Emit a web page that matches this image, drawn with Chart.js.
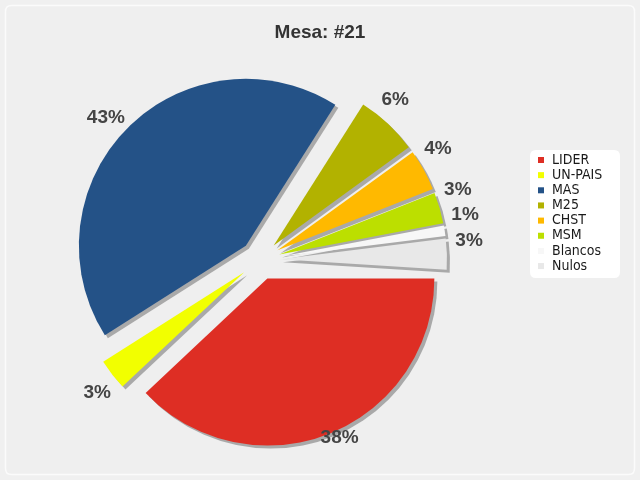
<!DOCTYPE html>
<html>
<head>
<meta charset="utf-8">
<script src="https://cdn.jsdelivr.net/npm/chart.js@4.4.1/dist/chart.umd.min.js"></script>
<style>
    html, body { margin: 0; padding: 0; background: #f0f0f0; }
    #wrap { width: 640px; height: 480px; }
</style>
</head>
<body>
<div id="wrap"><canvas id="mesaChart" width="640" height="480"></canvas></div>
<script>
// ==================================================
// DATA
// ==================================================
const chartTitle = 'Mesa: #21';
const categories = ['LIDER', 'UN-PAIS', 'MAS', 'M25', 'CHST', 'MSM', 'Blancos', 'Nulos'];
const votePercent = [38, 3, 43, 6, 4, 3, 1, 3];
const sliceColors = ['#de2e24', '#f2ff00', '#245287', '#b2b200', '#ffb900', '#bcdf00', '#f7f7f7', '#e8e8e8'];

// the original draws 3.6 degrees per percent point, so the rounded
// values (summing to 101) overlap a little past the full turn
const totalPercent = votePercent.reduce((a, b) => a + b, 0);

// small helper for rounded boxes
function roundBox(ctx, x, y, w, h, r) {
    ctx.beginPath();
    ctx.moveTo(x + r, y);
    ctx.lineTo(x + w - r, y);
    ctx.quadraticCurveTo(x + w, y, x + w, y + r);
    ctx.lineTo(x + w, y + h - r);
    ctx.quadraticCurveTo(x + w, y + h, x + w - r, y + h);
    ctx.lineTo(x + r, y + h);
    ctx.quadraticCurveTo(x, y + h, x, y + h - r);
    ctx.lineTo(x, y + r);
    ctx.quadraticCurveTo(x, y, x + r, y);
    ctx.closePath();
}

// Chart.js grows the radius of exploded arcs; here every slice is just
// slid out by `offset` pixels along its middle angle, same radius for all
Chart.ArcElement.prototype.draw = function (ctx) {
    const { x, y, startAngle, endAngle, outerRadius, options } = this;
    if (endAngle - startAngle <= 0 || outerRadius <= 0) return;
    const mid = (startAngle + endAngle) / 2;
    const push = options.offset || 0;
    ctx.save();
    ctx.translate(Math.cos(mid) * push, Math.sin(mid) * push);
    ctx.beginPath();
    ctx.moveTo(x, y);
    ctx.arc(x, y, outerRadius, startAngle, endAngle);
    ctx.closePath();
    ctx.fillStyle = options.backgroundColor;
    ctx.fill();
    ctx.restore();
};

// ==================================================
// PLUGINS
// ==================================================
const background = {
    id: 'background',
    beforeDraw(chart) {
        const ctx = chart.ctx;
        ctx.save();
        ctx.fillStyle = '#f0f0f0';
        ctx.fillRect(0, 0, chart.width, chart.height);
        roundBox(ctx, 5.5, 5.5, chart.width - 11, chart.height - 11, 6);
        ctx.fillStyle = '#efefef';
        ctx.fill();
        ctx.strokeStyle = '#fbfbfb';
        ctx.lineWidth = 1.5;
        ctx.stroke();

        // title
        ctx.font = 'bold 19px "Liberation Sans", Arial, sans-serif';
        ctx.fillStyle = '#333';
        ctx.textAlign = 'center';
        ctx.textBaseline = 'middle';
        ctx.fillText(chartTitle, chart.width / 2, 33);
        ctx.restore();
    }
};

const sliceShadow = {
    id: 'sliceShadow',
    beforeDatasetsDraw(chart) {
        const ctx = chart.ctx;
        ctx.save();
        ctx.shadowColor = '#a9a9a9';
        ctx.shadowOffsetX = 3;
        ctx.shadowOffsetY = 3;
        ctx.shadowBlur = 0;
    },
    afterDatasetsDraw(chart) {
        chart.ctx.restore();
    }
};

const percentLabels = {
    id: 'percentLabels',
    afterDatasetsDraw(chart) {
        const ctx = chart.ctx;
        const meta = chart.getDatasetMeta(0);
        ctx.save();
        ctx.font = 'bold 19px "Liberation Sans", Arial, sans-serif';
        ctx.fillStyle = '#444';
        ctx.textAlign = 'center';
        ctx.textBaseline = 'middle';
        let cum = 0;
        meta.data.forEach((arc, i) => {
            const p = arc.getProps(['x', 'y', 'outerRadius'], true);
            // labels sit on the share of a full turn
            const mid = ((cum + votePercent[i] / 2) / totalPercent) * Math.PI * 2;
            cum += votePercent[i];
            const dist = p.outerRadius + 43;
            const lx = p.x + Math.cos(mid) * dist;
            const ly = Math.min(p.y + Math.sin(mid) * dist, 438);
            ctx.fillText(votePercent[i] + '%', lx, ly);
        });
        ctx.restore();
    }
};

const sideLegend = {
    id: 'sideLegend',
    afterDraw(chart) {
        const ctx = chart.ctx;
        ctx.save();
        roundBox(ctx, 530, 150, 90, 128, 6);
        ctx.fillStyle = '#ffffff';
        ctx.fill();
        ctx.font = '14px "DejaVu Sans Condensed", "DejaVu Sans", sans-serif';
        ctx.textBaseline = 'middle';
        ctx.textAlign = 'left';
        categories.forEach((name, i) => {
            const rowY = 160 + i * 15.15;
            ctx.fillStyle = sliceColors[i];
            ctx.fillRect(538, rowY - 3, 6, 6);
            ctx.fillStyle = '#1a1a1a';
            ctx.fillText(name, 552, rowY);
        });
        ctx.restore();
    }
};

// ==================================================
// CHART
// ==================================================
new Chart(document.getElementById('mesaChart'), {
    type: 'pie',
    data: {
        labels: categories,
        datasets: [{
            data: votePercent,
            backgroundColor: sliceColors,
            borderWidth: 0,
            offset: 20,
            radius: 167
        }]
    },
    options: {
        responsive: false,
        devicePixelRatio: 1,
        animation: false,
        events: [],
        rotation: 90,
        circumference: totalPercent * 3.6,
        layout: { padding: { left: 20, right: 140, top: 60, bottom: 20 } },
        plugins: {
            legend: { display: false },
            title: { display: false },
            tooltip: { enabled: false }
        }
    },
    plugins: [background, sliceShadow, percentLabels, sideLegend]
});
</script>
</body>
</html>
